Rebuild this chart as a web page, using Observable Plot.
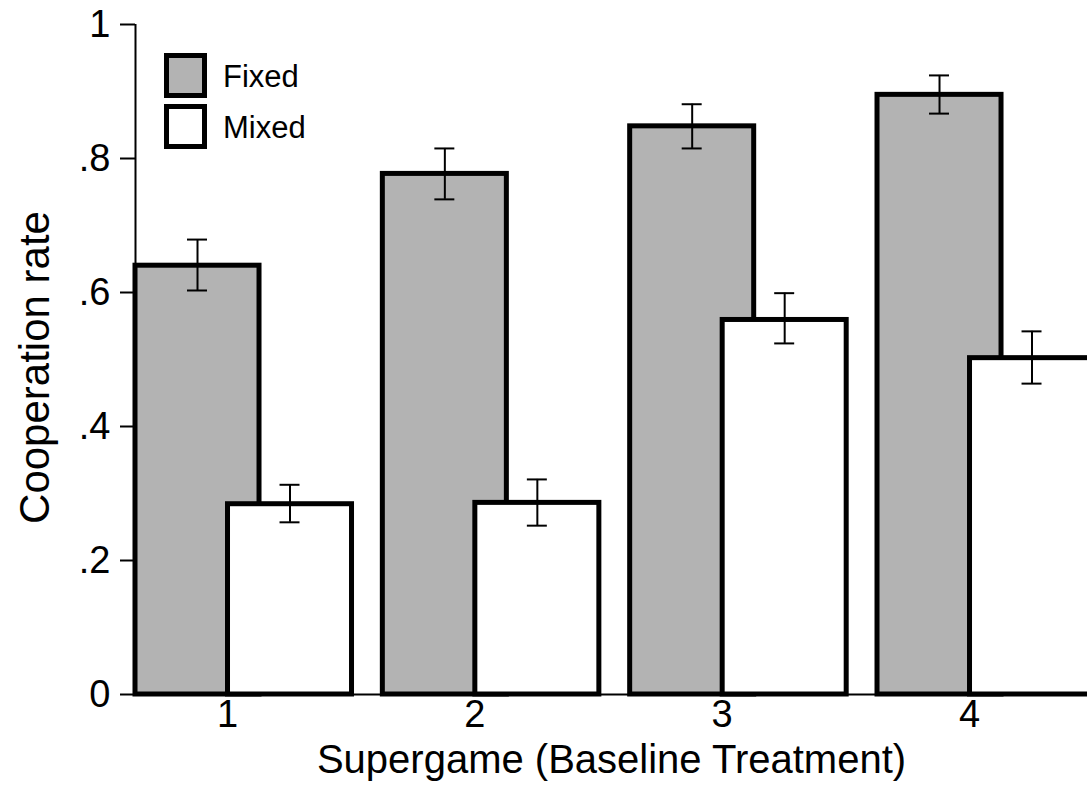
<!DOCTYPE html>
<html>
<head>
<meta charset="utf-8">
<script src="https://cdn.jsdelivr.net/npm/d3@7"></script>
<script src="https://cdn.jsdelivr.net/npm/@observablehq/plot@0.6"></script>
<style>
  html, body { margin: 0; padding: 0; background: white; overflow: hidden; }
  #wrap { position: relative; width: 1087px; height: 786px; }
  .lg-box { position: absolute; box-sizing: border-box; border: 5px solid black; width: 43px; height: 45px; }
  .lg-text { position: absolute; font-family: "Liberation Sans", Arial, sans-serif; font-size: 31px; line-height: 31px; color: black; }
</style>
</head>
<body>
<div id="wrap"></div>
<script>
// ---- data ----
const groups = [1, 2, 3, 4];
const xTickLabels = ["1", "2", "3", "4"];
const treatments = ["Fixed", "Mixed"];
const fixedRate = [0.640, 0.777, 0.848, 0.895];
const fixedLo   = [0.603, 0.739, 0.815, 0.867];
const fixedHi   = [0.679, 0.815, 0.881, 0.924];
const mixedRate = [0.284, 0.286, 0.559, 0.502];
const mixedLo   = [0.257, 0.252, 0.524, 0.464];
const mixedHi   = [0.313, 0.321, 0.599, 0.542];
const yTicks = [0, 0.2, 0.4, 0.6, 0.8, 1];
const yTickLabels = ["0", ".2", ".4", ".6", ".8", "1"];
const xTitle = "Supergame (Baseline Treatment)";
const yTitle = "Cooperation rate";

// ---- layout (in x-data units) ----
const xMin = 0.628, xMax = 4.477;
const offset = {Fixed: -0.1213, Mixed: 0.2527};
const halfW = 0.2507;
const capHalf = 0.0404;
const fills = {Fixed: "#b3b3b3", Mixed: "#ffffff"};

const rows = [];
for (const t of treatments) {
  groups.forEach((g, i) => {
    const rate = t === "Fixed" ? fixedRate[i] : mixedRate[i];
    const lo = t === "Fixed" ? fixedLo[i] : mixedLo[i];
    const hi = t === "Fixed" ? fixedHi[i] : mixedHi[i];
    const c = g + offset[t];
    rows.push({group: g, treatment: t, rate, lo, hi, center: c, x1: c - halfW, x2: c + halfW, c1: c - capHalf, c2: c + capHalf});
  });
}

const chart = Plot.plot({
  width: 1087,
  height: 786,
  marginLeft: 135,
  marginRight: 0,
  marginTop: 24,
  marginBottom: 92,
  style: {fontFamily: "'Liberation Sans', Arial, sans-serif", fontSize: "38px", background: "white", overflow: "hidden", color: "black"},
  x: {domain: [xMin, xMax]},
  y: {domain: [0, 1]},
  marks: [
    Plot.ruleY([0], {stroke: "black", strokeWidth: 2}),
    Plot.ruleX([xMin], {stroke: "black", strokeWidth: 2}),
    Plot.rect(rows, {x1: "x1", x2: "x2", y1: 0, y2: "rate", fill: d => fills[d.treatment], stroke: "black", strokeWidth: 5}),
    Plot.ruleX(rows, {x: "center", y1: "lo", y2: "hi", stroke: "black", strokeWidth: 2}),
    Plot.ruleY(rows, {y: "hi", x1: "c1", x2: "c2", stroke: "black", strokeWidth: 2}),
    Plot.ruleY(rows, {y: "lo", x1: "c1", x2: "c2", stroke: "black", strokeWidth: 2}),
    Plot.axisY({ticks: yTicks, tickFormat: d => yTickLabels[yTicks.indexOf(d)], tickSize: 15, tickPadding: 10, fontSize: 38, strokeWidth: 2, label: null}),
    Plot.axisX({ticks: groups, tickFormat: d => xTickLabels[groups.indexOf(d)], tickSize: 0, tickPadding: 6, fontSize: 38, label: null}),
    Plot.text([xTitle], {frameAnchor: "bottom", dy: 66, fontSize: 40, text: d => d, lineAnchor: "middle"}),
    Plot.text([yTitle], {frameAnchor: "left", textAnchor: "middle", dx: -100, dy: 8, rotate: -90, fontSize: 42, text: d => d, lineAnchor: "middle"})
  ]
});

const wrap = document.getElementById("wrap");
wrap.appendChild(chart);

// legend overlay
const legendItems = [
  {label: treatments[0], fill: fills.Fixed, top: 53},
  {label: treatments[1], fill: fills.Mixed, top: 104}
];
for (const it of legendItems) {
  const b = document.createElement("div");
  b.className = "lg-box";
  b.style.left = "164px";
  b.style.top = it.top + "px";
  b.style.background = it.fill;
  wrap.appendChild(b);
  const t = document.createElement("div");
  t.className = "lg-text";
  t.style.left = "223px";
  t.style.top = (it.top + 22 - 14) + "px";
  t.textContent = it.label;
  wrap.appendChild(t);
}
</script>
</body>
</html>
